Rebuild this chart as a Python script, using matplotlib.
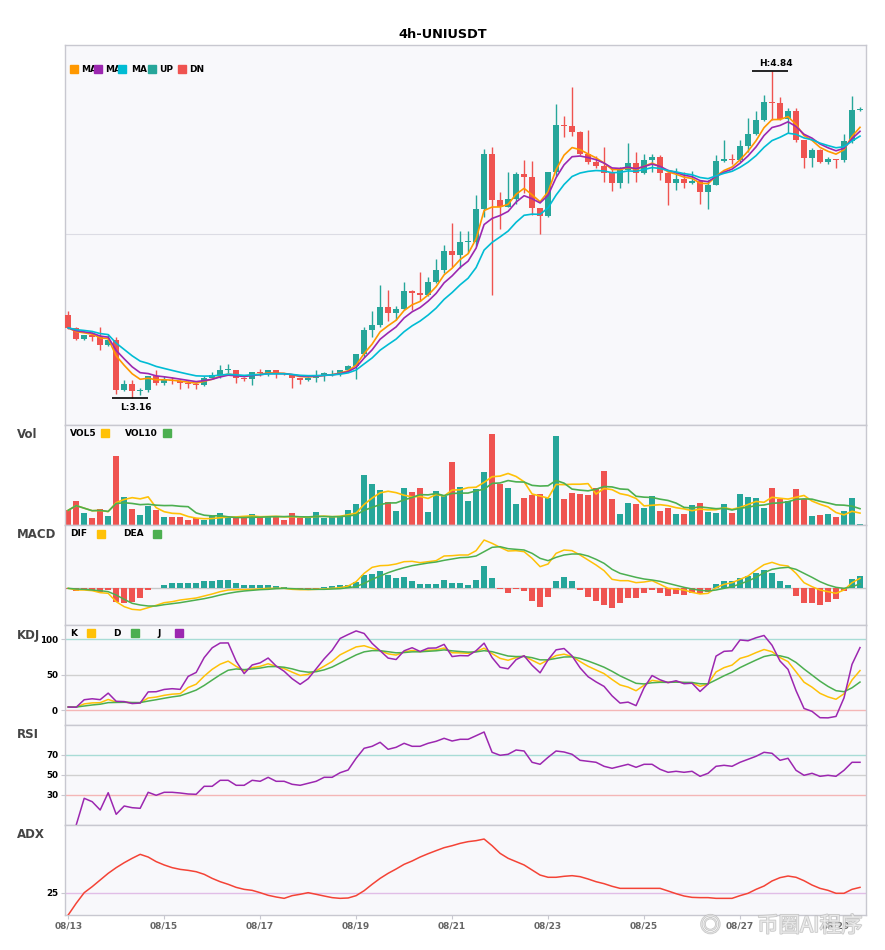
import numpy as np
import pandas as pd
import matplotlib
matplotlib.use("Agg")
import matplotlib.pyplot as plt
from matplotlib.patches import Rectangle
import matplotlib.patheffects as pe

plt.rcParams['font.family'] = ['DejaVu Sans']

# ---- 4h candles, 08/13 -> 08/29 ----
closes = [3.519, 3.461, 3.482, 3.473, 3.430, 3.456, 3.199, 3.230, 3.196, 3.199,
          3.271, 3.237, 3.254, 3.245, 3.237, 3.230, 3.225, 3.264, 3.276, 3.302,
          3.304, 3.264, 3.258, 3.293, 3.288, 3.302, 3.285, 3.283, 3.264, 3.250,
          3.264, 3.276, 3.285, 3.288, 3.302, 3.324, 3.384, 3.507, 3.533, 3.624,
          3.593, 3.615, 3.708, 3.696, 3.689, 3.754, 3.816, 3.913, 3.893, 3.958,
          3.960, 4.129, 4.412, 4.175, 4.141, 4.180, 4.309, 4.295, 4.136, 4.095,
          4.319, 4.561, 4.554, 4.522, 4.412, 4.369, 4.350, 4.313, 4.265, 4.330,
          4.363, 4.313, 4.381, 4.397, 4.313, 4.265, 4.284, 4.262, 4.273, 4.214,
          4.253, 4.376, 4.385, 4.380, 4.455, 4.515, 4.587, 4.681, 4.671, 4.590,
          4.633, 4.481, 4.393, 4.433, 4.373, 4.385, 4.382, 4.479, 4.638, 4.642]

opens = [3.585, 3.519, 3.461, 3.482, 3.473, 3.430, 3.456, 3.199, 3.230, 3.196,
         3.199, 3.271, 3.237, 3.254, 3.245, 3.237, 3.230, 3.225, 3.264, 3.276,
         3.302, 3.304, 3.264, 3.258, 3.293, 3.288, 3.302, 3.285, 3.283, 3.264,
         3.250, 3.264, 3.276, 3.285, 3.288, 3.302, 3.324, 3.384, 3.507, 3.533,
         3.624, 3.593, 3.615, 3.708, 3.696, 3.689, 3.754, 3.816, 3.913, 3.893,
         3.958, 3.960, 4.129, 4.412, 4.175, 4.141, 4.180, 4.309, 4.295, 4.136,
         4.095, 4.319, 4.561, 4.554, 4.522, 4.412, 4.369, 4.350, 4.313, 4.265,
         4.330, 4.363, 4.313, 4.381, 4.397, 4.313, 4.265, 4.284, 4.262, 4.273,
         4.214, 4.253, 4.376, 4.385, 4.380, 4.455, 4.515, 4.587, 4.681, 4.671,
         4.590, 4.633, 4.481, 4.393, 4.433, 4.373, 4.385, 4.382, 4.479, 4.638]

highs = [3.607, 3.522, 3.485, 3.499, 3.525, 3.490, 3.473, 3.254, 3.251, 3.208,
         3.274, 3.302, 3.271, 3.268, 3.252, 3.245, 3.235, 3.271, 3.293, 3.328,
         3.333, 3.304, 3.266, 3.295, 3.310, 3.305, 3.300, 3.290, 3.283, 3.264,
         3.268, 3.302, 3.293, 3.305, 3.305, 3.330, 3.384, 3.524, 3.605, 3.739,
         3.713, 3.631, 3.754, 3.716, 3.804, 3.781, 3.872, 3.944, 4.055, 4.016,
         4.016, 4.201, 4.437, 4.448, 4.215, 4.319, 4.319, 4.381, 4.377, 4.136,
         4.319, 4.669, 4.608, 4.758, 4.530, 4.536, 4.400, 4.450, 4.339, 4.347,
         4.467, 4.424, 4.411, 4.411, 4.407, 4.321, 4.339, 4.321, 4.325, 4.279,
         4.279, 4.407, 4.484, 4.411, 4.484, 4.596, 4.633, 4.715, 4.840, 4.702,
         4.650, 4.647, 4.481, 4.441, 4.435, 4.395, 4.387, 4.513, 4.707, 4.654]

lows = [3.515, 3.455, 3.458, 3.453, 3.408, 3.428, 3.182, 3.195, 3.160, 3.173,
        3.190, 3.225, 3.225, 3.230, 3.204, 3.208, 3.203, 3.220, 3.264, 3.264,
        3.285, 3.237, 3.247, 3.228, 3.270, 3.270, 3.262, 3.275, 3.211, 3.233,
        3.245, 3.242, 3.245, 3.270, 3.270, 3.298, 3.259, 3.370, 3.470, 3.524,
        3.555, 3.562, 3.610, 3.610, 3.658, 3.685, 3.747, 3.799, 3.833, 3.828,
        3.901, 3.941, 4.086, 3.687, 4.026, 4.140, 4.155, 4.210, 4.100, 4.001,
        4.086, 4.300, 4.501, 4.505, 4.405, 4.360, 4.340, 4.270, 4.222, 4.236,
        4.262, 4.270, 4.310, 4.321, 4.279, 4.150, 4.227, 4.236, 4.260, 4.154,
        4.130, 4.250, 4.370, 4.360, 4.370, 4.424, 4.510, 4.580, 4.587, 4.585,
        4.518, 4.475, 4.342, 4.347, 4.365, 4.360, 4.339, 4.370, 4.470, 4.630]

# volume in k UNI
volumes = [44, 72, 35, 20, 47, 26, 206, 83, 47, 29,
           56, 44, 23, 23, 23, 14, 20, 14, 26, 35,
           23, 23, 23, 32, 23, 26, 26, 14, 35, 20,
           20, 38, 20, 26, 26, 44, 62, 149, 122, 104,
           68, 41, 110, 98, 110, 38, 101, 86, 188, 113,
           71, 107, 159, 272, 123, 110, 62, 80, 89, 92,
           80, 266, 77, 95, 92, 89, 110, 161, 77, 32,
           65, 62, 50, 86, 41, 50, 32, 32, 59, 65,
           38, 35, 62, 35, 92, 83, 80, 50, 110, 77,
           71, 107, 77, 26, 29, 32, 23, 41, 80, 2]

# MACD lines and bars as drawn
dif = [0.000, -0.005, -0.005, -0.007, -0.013, -0.015, -0.040, -0.055, -0.063, -0.065,
       -0.058, -0.051, -0.043, -0.040, -0.035, -0.032, -0.029, -0.023, -0.017, -0.010,
       -0.005, -0.004, -0.004, -0.003, -0.002, 0.000, 0.000, 0.000, -0.003, -0.004,
       -0.004, -0.003, -0.002, 0.000, 0.002, 0.007, 0.020, 0.045, 0.063, 0.068,
       0.069, 0.073, 0.080, 0.081, 0.077, 0.080, 0.083, 0.097, 0.098, 0.100,
       0.100, 0.113, 0.145, 0.135, 0.123, 0.112, 0.113, 0.110, 0.090, 0.065,
       0.073, 0.105, 0.115, 0.113, 0.100, 0.085, 0.070, 0.053, 0.027, 0.023,
       0.023, 0.017, 0.019, 0.023, 0.012, 0.000, -0.002, -0.005, -0.012, -0.017,
       -0.015, 0.002, 0.012, 0.017, 0.027, 0.037, 0.055, 0.071, 0.078, 0.070,
       0.067, 0.045, 0.017, 0.005, -0.005, -0.010, -0.015, -0.005, 0.017, 0.030]

dea = [0.000, -0.002, -0.003, -0.005, -0.007, -0.010, -0.020, -0.033, -0.045, -0.050,
       -0.053, -0.053, -0.049, -0.046, -0.043, -0.039, -0.035, -0.031, -0.026, -0.020,
       -0.015, -0.011, -0.008, -0.006, -0.004, -0.003, -0.001, 0.000, -0.001, -0.002,
       -0.003, -0.003, -0.003, -0.002, -0.001, 0.002, 0.005, 0.015, 0.027, 0.037,
       0.047, 0.055, 0.062, 0.068, 0.072, 0.076, 0.079, 0.084, 0.088, 0.092,
       0.093, 0.097, 0.110, 0.123, 0.125, 0.119, 0.117, 0.115, 0.105, 0.090,
       0.083, 0.093, 0.100, 0.103, 0.103, 0.097, 0.087, 0.075, 0.057, 0.045,
       0.039, 0.033, 0.028, 0.025, 0.021, 0.015, 0.009, 0.003, -0.002, -0.006,
       -0.008, -0.005, 0.000, 0.005, 0.013, 0.022, 0.033, 0.047, 0.057, 0.061,
       0.063, 0.057, 0.045, 0.033, 0.020, 0.010, 0.003, 0.000, 0.005, 0.013]

macd_bars = [-0.001, -0.007, -0.005, -0.007, -0.010, -0.005, -0.041, -0.043, -0.040, -0.028,
             -0.005, 0.002, 0.010, 0.017, 0.017, 0.017, 0.017, 0.023, 0.023, 0.026,
             0.026, 0.017, 0.010, 0.010, 0.010, 0.010, 0.006, 0.003, 0.000, -0.003,
             -0.003, -0.001, 0.004, 0.007, 0.010, 0.010, 0.018, 0.041, 0.044, 0.053,
             0.041, 0.031, 0.034, 0.022, 0.014, 0.014, 0.014, 0.026, 0.017, 0.017,
             0.010, 0.025, 0.067, 0.030, -0.002, -0.013, -0.002, -0.008, -0.038, -0.055,
             -0.025, 0.022, 0.033, 0.022, -0.005, -0.025, -0.038, -0.050, -0.058, -0.043,
             -0.028, -0.028, -0.013, -0.005, -0.013, -0.022, -0.018, -0.020, -0.013, -0.018,
             -0.010, 0.013, 0.022, 0.022, 0.030, 0.037, 0.046, 0.055, 0.046, 0.022,
             0.010, -0.022, -0.045, -0.045, -0.050, -0.040, -0.032, -0.008, 0.028, 0.037]

rsi = [np.nan, 0, 26.7, 23.3, 15, 32.3, 10.7, 19, 17.3, 16.7,
       32.7, 29.7, 32.7, 32.7, 32, 31, 30.7, 38.7, 38.7, 44.7,
       44.7, 39.7, 39.7, 44.7, 43.7, 47.7, 43.7, 43.7, 40.7, 39.7,
       41.7, 43.7, 47.7, 47.7, 52.3, 55, 66.7, 76.7, 78.7, 82.7,
       75.7, 77.7, 81.7, 78.7, 78.7, 81.7, 83.7, 86.7, 84, 85.7,
       85.7, 89.3, 93, 72.7, 69.7, 70.7, 75, 74, 62.7, 60.7,
       67.7, 74, 73, 70.7, 64.7, 63.7, 62.7, 58.7, 56.7, 58.7,
       60.7, 57.7, 60.7, 60.7, 55.7, 52.7, 53.7, 52.7, 53.7, 48.7,
       51.7, 58.7, 59.7, 58.7, 62.7, 65.7, 68.7, 72.7, 71.7, 64.7,
       66.7, 54.7, 49.7, 51.7, 48.7, 49.7, 48.7, 54.7, 62.7, 62.7]

adx = [0, 13, 24.8, 31.5, 38.9, 46.3, 52.6, 58.1, 63, 67.4,
       64.4, 59.3, 55.6, 52.6, 50.7, 49.6, 48.1, 45.2, 40.7, 37,
       34.1, 30.7, 28.5, 27.4, 24.8, 21.9, 20, 18.5, 21.5, 23,
       24.8, 23, 21.1, 19.3, 18.5, 18.9, 21.5, 27, 34.1, 40.7,
       46.3, 51.1, 56.3, 60, 64.4, 68.1, 71.5, 74.8, 77, 79.6,
       81.5, 82.6, 84.4, 77, 68.5, 63, 59.3, 55.6, 50, 44.4,
       41.9, 41.9, 43, 43.7, 42.6, 40, 37, 34.8, 31.9, 29.6,
       29.6, 29.6, 29.6, 29.6, 29.6, 26.7, 23.7, 21.1, 19.6, 19.3,
       19.3, 18.5, 18.5, 18.5, 21.5, 24.1, 28.5, 32.2, 37.8, 41.5,
       43.3, 41.9, 38.1, 33.3, 29.6, 27.4, 24.1, 24.1, 28.5, 30.7]

date_ticks = ["08/13", "08/15", "08/17", "08/19", "08/21", "08/23", "08/25", "08/27", "08/29"]
tick_step = 12  # 6 candles a day

df = pd.DataFrame({"open": opens, "high": highs, "low": lows, "close": closes, "vol": volumes})
n = len(df)
x = np.arange(n)
c = df["close"]

UP = "#26a69a"
DN = "#ef5350"
BG = "#f8f8fb"
EDGE = "#c8c8d0"

# moving averages, volume averages, KDJ
ma_a = c.ewm(span=5, adjust=False).mean()
ma_b = c.ewm(span=7, adjust=False).mean()
ma_c = c.ewm(span=12, adjust=False).mean()

vol5 = df["vol"].rolling(5, min_periods=1).mean()
vol10 = df["vol"].rolling(10, min_periods=1).mean()

llv = df["low"].rolling(9, min_periods=1).min()
hhv = df["high"].rolling(9, min_periods=1).max()
rsv = (c - llv) / (hhv - llv) * 100
k = rsv.ewm(com=2, adjust=False).mean()
d = k.ewm(com=2, adjust=False).mean()
j = 3 * k - 2 * d

# ---- figure ----
W, H = 885, 950
fig = plt.figure(figsize=(W / 100, H / 100), dpi=100)


def fx(px):
    return px / W


def fy(py):
    return 1 - py / H


def panel(top, bottom):
    ax = fig.add_axes([fx(65), fy(bottom), fx(866) - fx(65), (bottom - top) / H])
    ax.set_facecolor(BG)
    for s in ax.spines.values():
        s.set_color(EDGE)
        s.set_linewidth(1)
    ax.set_xlim(-0.4, n - 0.25)
    ax.tick_params(axis="both", length=3, color=EDGE, labelsize=6.3, pad=2)
    ax.set_xticks([])
    ax.set_yticks([])
    return ax


ax_main = panel(45, 425)
ax_vol = panel(425, 525)
ax_macd = panel(525, 625)
ax_kdj = panel(625, 725)
ax_rsi = panel(725, 825)
ax_adx = panel(825, 915)

# candles
is_up = df["close"] >= df["open"]
colors = np.where(is_up, UP, DN)
body_lo = np.minimum(df["open"], df["close"])
body_h = np.maximum((df["close"] - df["open"]).abs(), 0.005)
ax_main.vlines(x, df["low"], df["high"], colors=colors, linewidth=1, zorder=2)
ax_main.bar(x, body_h, bottom=body_lo, width=0.72, color=colors, zorder=3)
ax_main.plot(x, ma_a, color="#ff9800", lw=1.2, zorder=4)
ax_main.plot(x, ma_b, color="#9c27b0", lw=1.2, zorder=4)
ax_main.plot(x, ma_c, color="#00bcd4", lw=1.2, zorder=4)

lo_i = int(df["low"].idxmin())
hi_i = int(df["high"].idxmax())
lo_v = df["low"][lo_i]
hi_v = df["high"][hi_i]
rng = hi_v - lo_v
ax_main.set_ylim(lo_v - 0.083 * rng, hi_v + 0.078 * rng)
ax_main.axhline(4.0, color="#dcdce4", lw=0.8, zorder=1)
ax_main.hlines(lo_v, lo_i - 2.5, lo_i + 2, color="black", lw=1.2, zorder=5)
ax_main.hlines(hi_v, hi_i - 2.5, hi_i + 2, color="black", lw=1.2, zorder=5)
ax_main.annotate(f"L:{lo_v:.2f}", (lo_i + 0.4, lo_v), xytext=(0, -7), textcoords="offset points",
                 ha="center", va="center", fontsize=6.5, fontweight="bold")
ax_main.annotate(f"H:{hi_v:.2f}", (hi_i + 0.5, hi_v), xytext=(0, 4.8), textcoords="offset points",
                 ha="center", va="center", fontsize=6.5, fontweight="bold")

# volume
ax_vol.bar(x, df["vol"], width=0.72, color=colors, zorder=2)
ax_vol.plot(x, vol5, color="#ffc107", lw=1.2, zorder=3)
ax_vol.plot(x, vol10, color="#4caf50", lw=1.2, zorder=3)
ax_vol.set_ylim(0, df["vol"].max() * 1.1)

# macd
bars = np.array(macd_bars)
ax_macd.axhline(0, color="#c8c8c8", lw=1, zorder=1)
ax_macd.bar(x, bars, width=0.72, color=np.where(bars >= 0, UP, DN), zorder=2)
ax_macd.plot(x, dif, color="#ffc107", lw=1.1, zorder=3)
ax_macd.plot(x, dea, color="#4caf50", lw=1.1, zorder=3)
ax_macd.set_ylim(-0.110, 0.190)

# kdj
for lvl, col in [(100, "#a8dcd6"), (50, "#d0d0d0"), (0, "#f4b6b6")]:
    ax_kdj.axhline(lvl, color=col, lw=1, zorder=1)
ax_kdj.plot(x, k, color="#ffc107", lw=1.1, zorder=3)
ax_kdj.plot(x, d, color="#4caf50", lw=1.1, zorder=3)
ax_kdj.plot(x, j, color="#9c27b0", lw=1.1, zorder=3)
ax_kdj.set_ylim(-21, 120)
ax_kdj.set_yticks([0, 50, 100])

# rsi
for lvl, col in [(70, "#a8dcd6"), (50, "#d0d0d0"), (30, "#f4b6b6")]:
    ax_rsi.axhline(lvl, color=col, lw=1, zorder=1)
ax_rsi.plot(x, rsi, color="#9c27b0", lw=1.1, zorder=3)
ax_rsi.set_ylim(0, 100)
ax_rsi.set_yticks([30, 50, 70])

# adx
ax_adx.axhline(25, color="#e1bee7", lw=1, zorder=1)
ax_adx.plot(x, adx, color="#f44336", lw=1.1, zorder=3)
ax_adx.set_ylim(0, 100)
ax_adx.set_yticks([25])

for ax in (ax_kdj, ax_rsi, ax_adx):
    for t in ax.get_yticklabels():
        t.set_fontweight("bold")

ax_adx.set_xticks(np.arange(0, n, tick_step))
ax_adx.set_xticklabels(date_ticks, fontsize=6.5, fontweight="bold", color="#666666")

# titles and legends
fig.text(0.5, fy(34), "4h-UNIUSDT", ha="center", va="center", fontsize=9.3, fontweight="bold")
for name, py in [("Vol", 435), ("MACD", 535), ("KDJ", 635), ("RSI", 735), ("ADX", 835)]:
    fig.text(fx(17), fy(py), name, ha="left", va="center", fontsize=8.5, fontweight="bold", color="#444444")


def swatch(px, py, col):
    fig.add_artist(Rectangle((fx(px), fy(py + 4)), 8 / W, 8 / H, transform=fig.transFigure,
                             color=col, zorder=5))


def label(px, py, s):
    fig.text(fx(px), fy(py), s, ha="left", va="center", fontsize=6.5, fontweight="bold", zorder=4)


# main legend
for sx, tx, col, s in [(70, 81, "#ff9800", "MA"), (94, 105, "#9c27b0", "MA"), (118, 131, "#00bcd4", "MA"),
                       (148, 159, UP, "UP"), (178, 189, DN, "DN")]:
    swatch(sx, 69, col)
    label(tx, 69, s)

label(70, 433, "VOL5")
swatch(101, 433, "#ffc107")
label(125, 433, "VOL10")
swatch(163, 433, "#4caf50")

label(70, 534, "DIF")
swatch(97, 534, "#ffc107")
label(123, 534, "DEA")
swatch(153, 534, "#4caf50")

label(70, 633, "K")
swatch(87, 633, "#ffc107")
label(113, 633, "D")
swatch(131, 633, "#4caf50")
label(157, 633, "J")
swatch(175, 633, "#9c27b0")

# watermark: translucent white letters with a grey outline
wm_family = ["Noto Sans CJK SC", "DejaVu Sans"]
wm_fx = [pe.withStroke(linewidth=1.2, foreground=(0.74, 0.74, 0.74, 0.8))]
fig.text(fx(700), fy(926), "◎", ha="left", va="center", fontsize=15,
         family=wm_family, color=(1, 1, 1, 0.55), zorder=10, path_effects=wm_fx)
fig.text(fx(757), fy(926), "币圈AI程序", ha="left", va="center", fontsize=15.5,
         family=wm_family, color=(1, 1, 1, 0.55), zorder=10, path_effects=wm_fx)

fig.savefig("out.png", dpi=100)
